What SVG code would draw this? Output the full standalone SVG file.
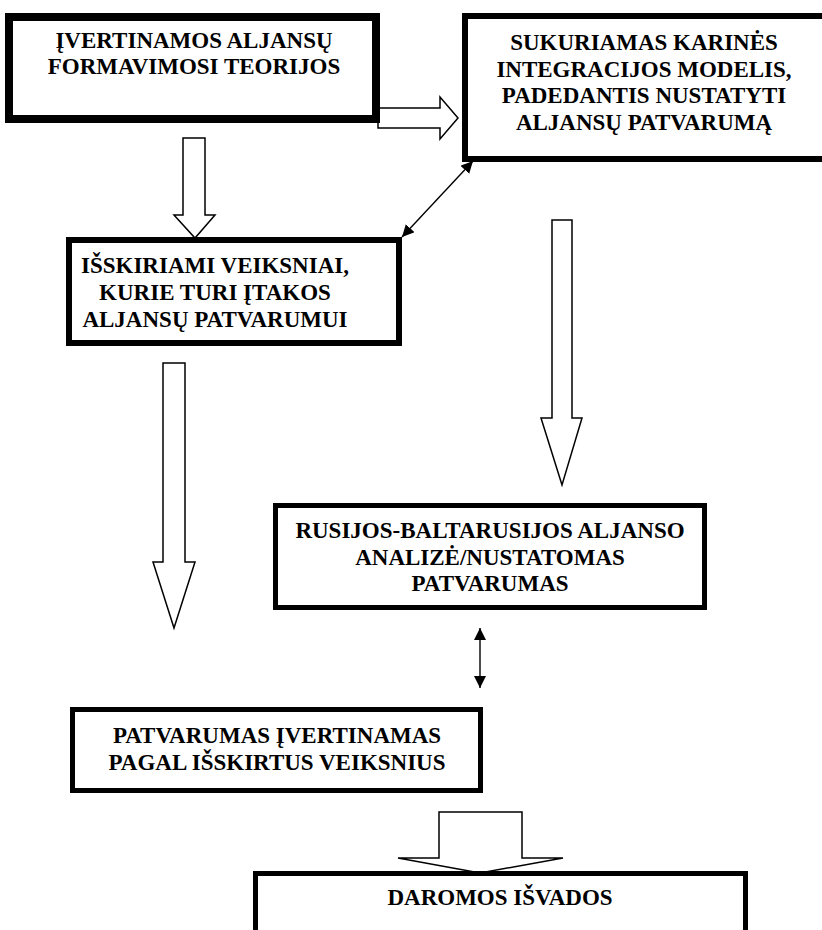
<svg xmlns="http://www.w3.org/2000/svg" width="822" height="930" viewBox="0 0 822 930">
  <defs>
    <style>
      .box { fill: #ffffff; stroke: #000000; }
      .lbl { font-family: "Liberation Serif", "Times New Roman", serif; font-weight: bold; font-size: 23px; fill: #000000; text-anchor: middle; }
      .block { fill: #ffffff; stroke: #000000; stroke-width: 1.5; stroke-linejoin: miter; }
      .thin { stroke: #000000; stroke-width: 1.4; fill: none; }
    </style>
    <marker id="head" viewBox="0 0 10 10" refX="10" refY="5" markerWidth="12" markerHeight="12" markerUnits="userSpaceOnUse" orient="auto-start-reverse">
      <path d="M0,0 L10,5 L0,10 z" fill="#000000"/>
    </marker>
  </defs>

  <rect width="822" height="930" fill="#ffffff"/>

  <!-- connectors -->
  <g id="connectors">
    <!-- block arrow: theories -> model -->
    <path class="block" d="M378,108 L440,108 L440,97 L458,118 L440,139 L440,128 L378,128 z"/>
    <!-- block arrow: theories -> factors -->
    <path class="block" d="M183,138 L205,138 L205,215 L215,215 L195,238 L174,215 L183,215 z"/>
    <!-- block arrow: factors -> evaluation -->
    <path class="block" d="M163,363 L185,363 L185,562 L195,562 L174,628 L153,562 L163,562 z"/>
    <!-- block arrow: model -> analysis -->
    <path class="block" d="M552,220 L572,220 L572,418 L582,418 L562,485 L541,418 L552,418 z"/>
    <!-- block arrow: evaluation -> conclusions -->
    <path class="block" d="M439,812 L522,812 L522,858 L563,858 L480,873 L398,858 L439,858 z"/>
    <!-- two-way links -->
    <line class="thin" x1="473" y1="161" x2="402" y2="237" marker-start="url(#head)" marker-end="url(#head)"/>
    <line class="thin" x1="480" y1="628" x2="480" y2="688" marker-start="url(#head)" marker-end="url(#head)"/>
  </g>

  <g id="node-theories">
    <rect class="box" x="9" y="17" width="367" height="102" stroke-width="8"/>
    <text class="lbl" x="194" y="48">ĮVERTINAMOS ALJANSŲ</text>
    <text class="lbl" x="194" y="74">FORMAVIMOSI TEORIJOS</text>
  </g>

  <g id="node-model">
    <rect class="box" x="465" y="16" width="400" height="143" stroke-width="6"/>
    <text class="lbl" x="644" y="50">SUKURIAMAS KARINĖS</text>
    <text class="lbl" x="644" y="77">INTEGRACIJOS MODELIS,</text>
    <text class="lbl" x="644" y="103">PADEDANTIS NUSTATYTI</text>
    <text class="lbl" x="644" y="130">ALJANSŲ PATVARUMĄ</text>
  </g>

  <g id="node-factors">
    <rect class="box" x="69" y="240" width="330" height="103" stroke-width="6"/>
    <text class="lbl" x="215" y="273">IŠSKIRIAMI VEIKSNIAI,</text>
    <text class="lbl" x="215" y="300">KURIE TURI ĮTAKOS</text>
    <text class="lbl" x="215" y="327">ALJANSŲ PATVARUMUI</text>
  </g>

  <g id="node-analysis">
    <rect class="box" x="275.5" y="505.5" width="429" height="102" stroke-width="5"/>
    <text class="lbl" x="490" y="538">RUSIJOS-BALTARUSIJOS ALJANSO</text>
    <text class="lbl" x="490" y="565">ANALIZĖ/NUSTATOMAS</text>
    <text class="lbl" x="490" y="591">PATVARUMAS</text>
  </g>

  <g id="node-evaluation">
    <rect class="box" x="72.5" y="709.5" width="408" height="81" stroke-width="5"/>
    <text class="lbl" x="277" y="743">PATVARUMAS ĮVERTINAMAS</text>
    <text class="lbl" x="277" y="770">PAGAL IŠSKIRTUS VEIKSNIUS</text>
  </g>

  <g id="node-conclusions">
    <rect class="box" x="255.5" y="873.5" width="490" height="100" stroke-width="5"/>
    <text class="lbl" x="500" y="905">DAROMOS IŠVADOS</text>
  </g>
</svg>
